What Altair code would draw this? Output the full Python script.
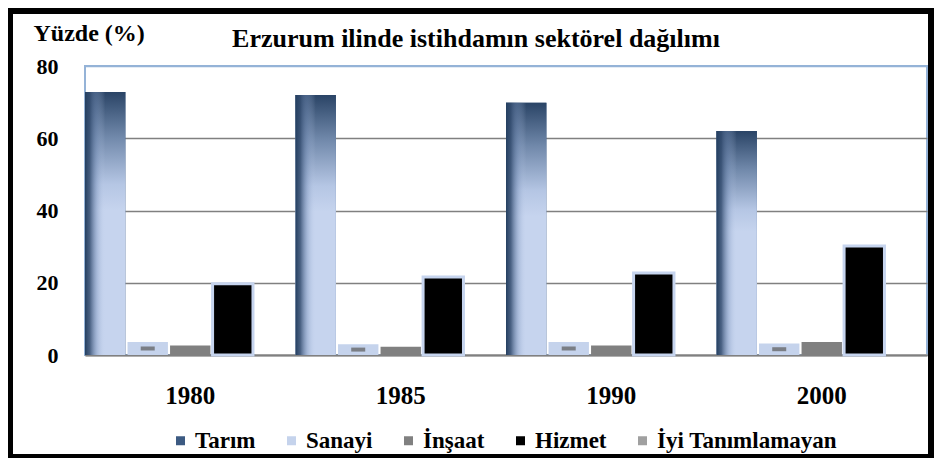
import altair as alt
import pandas as pd

years = ["1980", "1985", "1990", "2000"]
sectors = ["Tarım", "Sanayi", "İnşaat", "Hizmet", "İyi Tanımlamayan"]
tarim = [72.8, 72.0, 69.8, 62.0]
sanayi = [3.6, 3.0, 3.6, 3.2]
insaat = [2.6, 2.3, 2.6, 3.6]
hizmet = [19.7, 21.6, 22.7, 30.2]
iyi = [0.3, 0.3, 0.3, 0.3]
y_ticks = [0, 20, 40, 60, 80]
colors = ["#3c5a82", "#c5d3ec", "#808080", "#000000", "#a0a0a0"]
chart_title = "Erzurum ilinde istihdamın sektörel dağılımı"
y_title = "Yüzde (%)"

rows = []
for i, yr in enumerate(years):
    for s, vals in zip(sectors, [tarim, sanayi, insaat, hizmet, iyi]):
        rows.append({"yil": yr, "sektor": s, "deger": vals[i]})
df = pd.DataFrame(rows)

FONT = "Liberation Serif"

x = alt.X("yil:N", scale=alt.Scale(domain=years, paddingInner=0, paddingOuter=0),
          axis=alt.Axis(title=None, labelAngle=0, labelFont=FONT, labelFontSize=25,
                        labelFontWeight="bold", labelColor="black", labelPadding=28,
                        ticks=False, domainColor="#808080", domainWidth=2))
xo = alt.XOffset("sektor:N", scale=alt.Scale(domain=sectors, paddingInner=0.05, paddingOuter=0))
y = alt.Y("deger:Q", scale=alt.Scale(domain=[0, 80]),
          axis=alt.Axis(values=y_ticks, title=y_title, titleAngle=0, titleX=-52, titleY=-26,
                        titleAlign="left", titleBaseline="alphabetic", titleFont=FONT,
                        titleFontSize=24, titleFontWeight="bold", titleColor="black",
                        labelFont=FONT, labelFontSize=22, labelFontWeight="bold",
                        labelColor="black", labelPadding=27, ticks=False, domain=False,
                        gridColor={"condition": {"test": "datum.value === 80", "value": "#95b3d7"},
                                   "value": "#808080"},
                        gridWidth=1.5))

base = alt.Chart(df)

bars = base.mark_bar().encode(
    x=x, xOffset=xo, y=y,
    color=alt.Color("sektor:N", scale=alt.Scale(domain=sectors, range=colors),
                    legend=alt.Legend(orient="none", legendX=84, legendY=363, direction="horizontal",
                                      title=None, labelFont=FONT, labelFontSize=23,
                                      labelFontWeight="bold", labelColor="black", labelLimit=400,
                                      symbolType="square", symbolSize=81, symbolStrokeWidth=0,
                                      columnPadding=24, labelOffset=3, padding=0)),
)

vert_grad = {"gradient": "linear", "x1": 0, "y1": 0, "x2": 0, "y2": 1,
             "stops": [{"offset": 0, "color": "#2a4466"},
                       {"offset": 0.17, "color": "#7088aa"},
                       {"offset": 0.35, "color": "#b5c6e4"},
                       {"offset": 0.45, "color": "#c6d4ee"},
                       {"offset": 1, "color": "#c6d4ee"}]}
horiz_grad = {"gradient": "linear", "x1": 0, "y1": 0, "x2": 1, "y2": 0,
              "stops": [{"offset": 0, "color": "rgba(36,63,96,1)"},
                        {"offset": 0.12, "color": "rgba(52,77,112,0.85)"},
                        {"offset": 0.3, "color": "rgba(120,145,185,0.4)"},
                        {"offset": 0.5, "color": "rgba(198,212,238,0)"},
                        {"offset": 1, "color": "rgba(198,212,238,0)"}]}

tarim_v = base.transform_filter(alt.datum.sektor == "Tarım").mark_bar(color=vert_grad).encode(
    x=x, xOffset=xo, y=y)
tarim_h = base.transform_filter(alt.datum.sektor == "Tarım").mark_bar(color=horiz_grad).encode(
    x=x, xOffset=xo, y=y)

sanayi_in = base.transform_filter(alt.datum.sektor == "Sanayi").transform_calculate(
    mid="datum.deger / 2").mark_tick(color="#5a5a5a", size=14, thickness=4).encode(
    x=x, xOffset=xo, y=alt.Y("mid:Q"))

hizmet_b = base.transform_filter(alt.datum.sektor == "Hizmet").mark_bar(
    fill="black", stroke="#c6d4ee", strokeWidth=3).encode(x=x, xOffset=xo, y=y)

title_txt = alt.Chart(alt.Data(values=[{"t": chart_title}])).mark_text(
    font=FONT, fontSize=26, fontWeight="bold", color="black", align="center",
    baseline="alphabetic").encode(text="t:N", x=alt.value(391), y=alt.value(-19))

frame = alt.Chart(alt.Data(values=[{"f": 1}])).mark_rect(
    filled=False, stroke="black", strokeWidth=6).encode(
    x=alt.value(-75), x2=alt.value(846), y=alt.value(-55), y2=alt.value(391))

chart = alt.layer(bars, tarim_v, tarim_h, sanayi_in, hizmet_b, title_txt, frame).properties(
    width=842, height=289,
    autosize=alt.AutoSizeParams(type="none"),
    padding={"left": 77, "top": 58, "right": 8, "bottom": 103},
    background="white",
).configure_view(stroke="#95b3d7", strokeWidth=2)

chart.save("out.html", embed_options={"renderer": "svg", "actions": False})
